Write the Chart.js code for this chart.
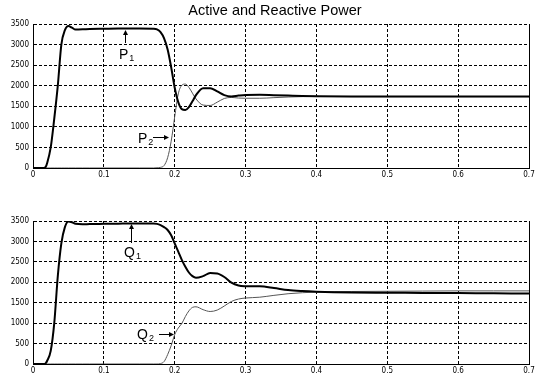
<!DOCTYPE html>
<html>
<head>
<meta charset="utf-8">
<script src="https://cdn.jsdelivr.net/npm/chart.js@4/dist/chart.umd.min.js"></script>
<style>
  html, body { margin: 0; padding: 0; background: #fff; }
  #wrap { position: relative; width: 539px; height: 383px; background: #fff; }
  canvas { position: absolute; left: 0; }
  #c1 { top: 0; }
  #c2 { top: 190px; }
</style>
</head>
<body>
<div id="wrap">
  <canvas id="c1" width="539" height="190"></canvas>
  <canvas id="c2" width="539" height="193"></canvas>
</div>
<script>
// ---- data ----
const title = 'Active and Reactive Power';
const time = [0, 0.01, 0.015, 0.018, 0.02, 0.025, 0.03, 0.035, 0.04, 0.045, 0.05, 0.055, 0.06, 0.07, 0.08, 0.1, 0.12, 0.15, 0.17, 0.175, 0.18, 0.185, 0.19, 0.195, 0.2, 0.205, 0.21, 0.215, 0.22, 0.225, 0.23, 0.24, 0.25, 0.26, 0.27, 0.28, 0.29, 0.3, 0.32, 0.34, 0.36, 0.38, 0.4, 0.45, 0.5, 0.55, 0.6, 0.65, 0.7];
const P1 = [0, 0, 0, 30, 120, 500, 1200, 2000, 3000, 3350, 3450, 3410, 3365, 3370, 3380, 3385, 3390, 3390, 3385, 3370, 3300, 3150, 2880, 2450, 1950, 1600, 1430, 1410, 1480, 1620, 1770, 1940, 1940, 1860, 1770, 1740, 1760, 1775, 1780, 1770, 1760, 1750, 1745, 1740, 1740, 1740, 1740, 1740, 1740];
const P2 = [0, 0, 0, 0, 0, 0, 0, 0, 0, 0, 0, 0, 0, 0, 0, 0, 0, 0, 0, 5, 15, 60, 250, 650, 1250, 1800, 2010, 2040, 1960, 1820, 1680, 1530, 1520, 1600, 1690, 1715, 1700, 1695, 1695, 1710, 1725, 1735, 1740, 1735, 1735, 1735, 1735, 1735, 1735];
const Q1 = [0, 0, 0, 20, 80, 320, 1000, 2150, 2950, 3350, 3490, 3470, 3430, 3420, 3425, 3430, 3435, 3440, 3440, 3430, 3400, 3350, 3280, 3150, 2950, 2750, 2550, 2380, 2240, 2150, 2110, 2150, 2225, 2215, 2130, 1990, 1920, 1905, 1900, 1860, 1810, 1785, 1770, 1750, 1745, 1740, 1735, 1730, 1725];
const Q2 = [0, 0, 0, 0, 0, 0, 0, 0, 0, 0, 0, 0, 0, 0, 0, 0, 0, 0, 0, 0, 10, 60, 230, 450, 720, 880, 990, 1160, 1300, 1385, 1400, 1330, 1285, 1320, 1420, 1530, 1590, 1615, 1635, 1680, 1720, 1745, 1760, 1775, 1780, 1785, 1790, 1790, 1790];
const xTicks = [0, 0.1, 0.2, 0.3, 0.4, 0.5, 0.6, 0.7];
const yTicks = [0, 500, 1000, 1500, 2000, 2500, 3000, 3500];
const annotationsTop = [
  { text: 'P', sub: '1', x: 0.13, y: 3385, dir: 'up', len: 14, dx: -6, dy: 30 },
  { text: 'P', sub: '2', x: 0.193, y: 760, dir: 'right', len: 17, dx: -32, dy: 6 }
];
const annotationsBottom = [
  { text: 'Q', sub: '1', x: 0.139, y: 3440, dir: 'up', len: 20, dx: -7, dy: 34 },
  { text: 'Q', sub: '2', x: 0.2, y: 740, dir: 'right', len: 16, dx: -38, dy: 5 }
];

const tickFont = { family: "'Liberation Sans Narrow', 'DejaVu Sans Condensed', 'Liberation Sans', Arial, sans-serif", size: 8 };

function pts(ys) { return time.map((t, i) => ({ x: t, y: ys[i] })); }

// solid left/bottom/right frame
const framePlugin = {
  id: 'frame',
  afterDraw(chart) {
    const { ctx, chartArea: a } = chart;
    ctx.save();
    ctx.strokeStyle = '#000';
    ctx.lineWidth = 1;
    ctx.setLineDash([]);
    ctx.beginPath();
    ctx.moveTo(Math.round(a.left) + 0.5, Math.round(a.top) + 0.5);
    ctx.lineTo(Math.round(a.left) + 0.5, Math.round(a.bottom) + 0.5);
    ctx.lineTo(Math.round(a.right) + 0.5, Math.round(a.bottom) + 0.5);
    ctx.lineTo(Math.round(a.right) + 0.5, Math.round(a.top) + 0.5);
    ctx.stroke();
    ctx.restore();
  }
};

// arrow labels
const labelPlugin = {
  id: 'arrowLabels',
  afterDatasetsDraw(chart, args, opts) {
    const { ctx, scales: { x, y } } = chart;
    ctx.save();
    ctx.fillStyle = '#000';
    ctx.strokeStyle = '#000';
    ctx.lineWidth = 1;
    ctx.setLineDash([]);
    (opts.items || []).forEach(it => {
      const px = Math.round(x.getPixelForValue(it.x));
      const py = Math.round(y.getPixelForValue(it.y));
      if (it.dir === 'up') {
        ctx.beginPath();
        ctx.moveTo(px + 0.5, py + 4);
        ctx.lineTo(px + 0.5, py + it.len);
        ctx.stroke();
        ctx.beginPath();
        ctx.moveTo(px + 0.5, py + 1);
        ctx.lineTo(px - 2, py + 6);
        ctx.lineTo(px + 3, py + 6);
        ctx.closePath();
        ctx.fill();
      } else {
        ctx.beginPath();
        ctx.moveTo(px - it.len, py + 0.5);
        ctx.lineTo(px - 5, py + 0.5);
        ctx.stroke();
        ctx.beginPath();
        ctx.moveTo(px - 1, py + 0.5);
        ctx.lineTo(px - 6, py - 2);
        ctx.lineTo(px - 6, py + 3);
        ctx.closePath();
        ctx.fill();
      }
      ctx.font = "14px 'Liberation Sans', Arial, sans-serif";
      ctx.textBaseline = 'alphabetic';
      ctx.textAlign = 'left';
      const w = ctx.measureText(it.text).width;
      const tx = px + it.dx;
      const ty = py + it.dy;
      ctx.fillText(it.text, tx, ty);
      ctx.font = "9px 'Liberation Sans', Arial, sans-serif";
      ctx.fillText(it.sub, tx + w + 1, ty + 2);
    });
    ctx.restore();
  }
};

const titlePlugin = {
  id: 'topTitle',
  afterDraw(chart, args, opts) {
    if (!opts.text) return;
    const { ctx } = chart;
    ctx.save();
    ctx.fillStyle = '#000';
    ctx.font = "14.5px 'Liberation Sans', Arial, sans-serif";
    ctx.textAlign = 'center';
    ctx.textBaseline = 'middle';
    ctx.fillText(opts.text, 275, 11);
    ctx.restore();
  }
};

function makeChart(id, s1, s2, padTop, xAxisH, items, titleText) {
  return new Chart(document.getElementById(id), {
    type: 'line',
    data: {
      datasets: [
        { data: pts(s1), borderColor: '#000', borderWidth: 2, pointRadius: 0, cubicInterpolationMode: 'monotone', fill: false },
        { data: pts(s2), borderColor: '#555', borderWidth: 1, pointRadius: 0, cubicInterpolationMode: 'monotone', fill: false }
      ]
    },
    options: {
      responsive: false,
      animation: false,
      devicePixelRatio: 1,
      layout: { padding: { top: padTop, left: 0, right: 10, bottom: 0 } },
      plugins: {
        legend: { display: false },
        tooltip: { enabled: false },
        arrowLabels: { items: items },
        topTitle: { text: titleText }
      },
      scales: {
        x: {
          type: 'linear', min: 0, max: 0.7,
          afterBuildTicks: (s) => { s.ticks = xTicks.map(v => ({ value: v })); },
          afterFit: (s) => { s.height = xAxisH; },
          ticks: {
            font: tickFont, color: '#000', padding: 2, maxRotation: 0,
            callback: (v) => v === 0 ? '0' : v.toFixed(1)
          },
          grid: { color: '#000', lineWidth: 1, drawTicks: false },
          border: { display: true, color: '#000', width: 1, dash: [3, 2] }
        },
        y: {
          type: 'linear', min: 0, max: 3500,
          afterBuildTicks: (s) => { s.ticks = yTicks.map(v => ({ value: v })); },
          afterFit: (s) => { s.width = 33; },
          ticks: { font: tickFont, color: '#000', padding: 4, callback: (v) => String(v) },
          grid: { color: '#000', lineWidth: 1, drawTicks: false },
          border: { display: true, color: '#000', width: 1, dash: [3, 2] }
        }
      }
    },
    plugins: [framePlugin, labelPlugin, titlePlugin]
  });
}

makeChart('c1', P1, P2, 24, 22, annotationsTop, title);
makeChart('c2', Q1, Q2, 31, 19, annotationsBottom, '');
</script>
</body>
</html>
